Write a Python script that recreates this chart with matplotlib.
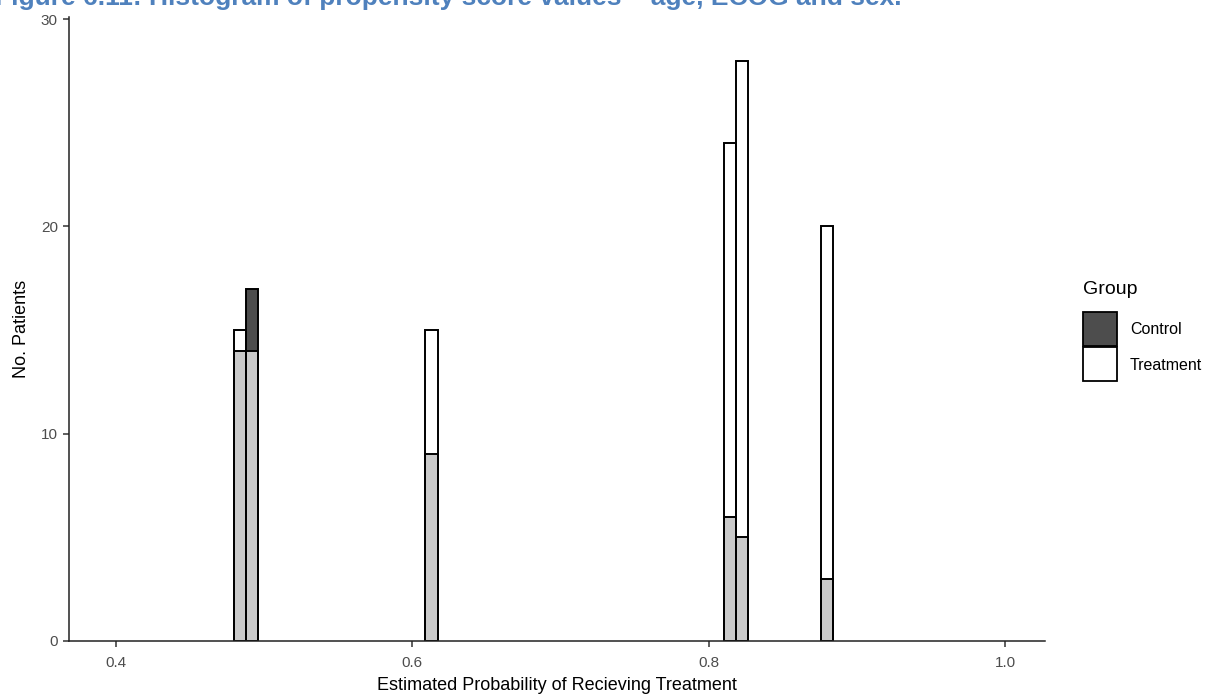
import matplotlib
matplotlib.use("Agg")
import matplotlib.pyplot as plt
from matplotlib.patches import Rectangle

plt.rcParams["font.family"] = ["Liberation Sans", "DejaVu Sans"]

# histogram bins (centres) and counts per group
bin_centres = [0.4838, 0.4920, 0.6129, 0.8145, 0.8227, 0.8799]
bin_width = 0.0082
control = [14, 17, 9, 6, 5, 3]
treatment = [15, 14, 15, 24, 28, 20]

groups = ["Control", "Treatment"]
group_fill = ["#4d4d4d", "white"]
title = "Figure 6.11: Histogram of propensity score values \u2013 age, ECOG and sex."

W, H = 1228, 699
fig = plt.figure(figsize=(W / 100, H / 100), dpi=100)
ax = fig.add_axes([69 / W, 58 / H, 976 / W, 624 / H])

# control drawn first, treatment on top (both semi-transparent, like ggplot identity position)
ax.bar(bin_centres, control, width=bin_width, color="black", alpha=0.7, linewidth=0)
ax.bar(bin_centres, treatment, width=bin_width, color="white", alpha=0.7, linewidth=0)
ax.bar(bin_centres, control, width=bin_width, fill=False, edgecolor="black", linewidth=1.4)
ax.bar(bin_centres, treatment, width=bin_width, fill=False, edgecolor="black", linewidth=1.4)

ax.set_xlim(0.3683, 1.027)
ax.set_ylim(0, 30.1)
ax.set_xticks([0.4, 0.6, 0.8, 1.0])
ax.set_xticklabels(["0.4", "0.6", "0.8", "1.0"])
ax.set_yticks([0, 10, 20, 30])
for s in ["top", "right"]:
    ax.spines[s].set_visible(False)
for s in ["left", "bottom"]:
    ax.spines[s].set_linewidth(1.1)
    ax.spines[s].set_color("#222222")
ax.tick_params(axis="both", colors="#333333", labelcolor="#4d4d4d", labelsize=11,
               length=4, width=1.1)
ax.tick_params(axis="x", pad=7)
ax.tick_params(axis="y", pad=4)

ax.set_xlabel("Estimated Probability of Recieving Treatment", fontsize=13, labelpad=5)
ax.set_ylabel("No. Patients", fontsize=13, labelpad=8)

# legend, laid out by hand like the ggplot guide
fig.text(1083 / W, 1 - 290 / H, "Group", fontsize=14, ha="left", va="center")
for i, (name, fc) in enumerate(zip(groups, group_fill)):
    top = 312 + 35 * i
    fig.patches.append(Rectangle((1083 / W, 1 - (top + 34) / H), 34 / W, 34 / H,
                                 transform=fig.transFigure, facecolor=fc,
                                 edgecolor="black", linewidth=1.3))
    fig.text(1130 / W, 1 - (top + 18) / H, name, fontsize=11.5, ha="left", va="center")

fig.text(-0.004, 1 - 5 / H, title, color="#4f81bd", fontsize=19, fontweight="bold",
         ha="left", va="baseline")

fig.savefig("out.png", dpi=100)
